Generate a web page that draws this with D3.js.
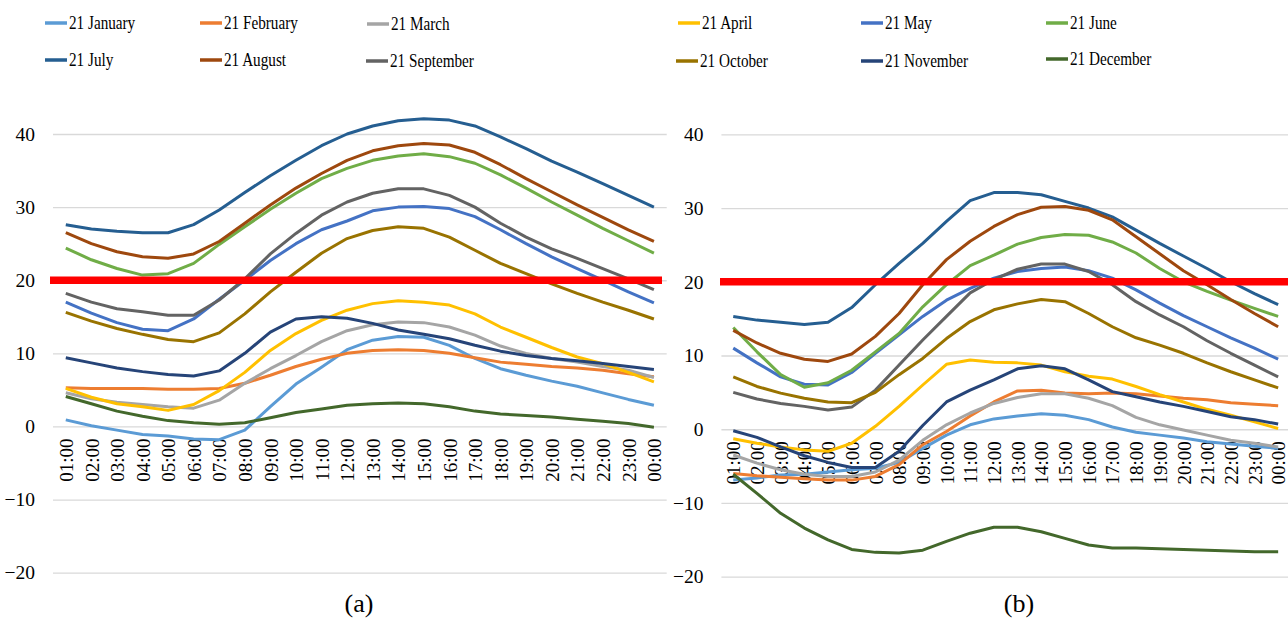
<!DOCTYPE html>
<html>
<head>
<meta charset="utf-8">
<script src="https://cdn.jsdelivr.net/npm/d3@7"></script>
<style>
  body { margin: 0; background: #fff; }
  svg, svg text { font-family: "Liberation Serif", "Times New Roman", serif; }
  svg { display: block; }
</style>
</head>
<body>
<svg id="chart" width="1288" height="618"></svg>
<script>
const hours = ['01:00', '02:00', '03:00', '04:00', '05:00', '06:00', '07:00', '08:00', '09:00', '10:00', '11:00', '12:00',
  '13:00', '14:00', '15:00', '16:00', '17:00', '18:00', '19:00', '20:00', '21:00', '22:00', '23:00', '00:00'];
const months = ['21 January', '21 February', '21 March', '21 April', '21 May', '21 June',
  '21 July', '21 August', '21 September', '21 October', '21 November', '21 December'];
const colors = ['#5B9BD5', '#ED7D31', '#A5A5A5', '#FFC000', '#4472C4', '#70AD47',
  '#255E91', '#9E480E', '#636363', '#997300', '#264478', '#43682B'];
const yTicks = [-20, -10, 0, 10, 20, 30, 40];
const threshold = 20;

// panel (a)
const janA = [0.9, 0.1, -0.5, -1.1, -1.3, -1.7, -1.8, -0.5, 2.7, 5.8, 8.1, 10.5, 11.8, 12.3, 12.2, 11.1, 9.3, 7.9, 7.0, 6.2, 5.5, 4.6, 3.7, 2.9];
const febA = [5.3, 5.2, 5.2, 5.2, 5.1, 5.1, 5.2, 5.9, 7.0, 8.2, 9.2, 10.0, 10.4, 10.5, 10.4, 10.0, 9.4, 8.8, 8.5, 8.2, 8.0, 7.7, 7.2, 6.8];
const marA = [4.6, 3.8, 3.3, 3.0, 2.7, 2.5, 3.6, 5.9, 7.9, 9.7, 11.6, 13.1, 13.9, 14.3, 14.2, 13.6, 12.5, 11.0, 10.0, 9.3, 8.8, 8.2, 7.7, 6.7];
const aprA = [5.2, 4.0, 3.1, 2.7, 2.2, 3.0, 4.9, 7.4, 10.4, 12.7, 14.5, 15.9, 16.8, 17.2, 17.0, 16.6, 15.4, 13.6, 12.2, 10.8, 9.5, 8.6, 7.4, 6.1];
const mayA = [17.0, 15.5, 14.2, 13.3, 13.1, 14.7, 17.4, 20.0, 22.7, 25.0, 26.9, 28.1, 29.5, 30.0, 30.1, 29.8, 28.7, 26.9, 25.0, 23.2, 21.6, 20.0, 18.4, 16.9];
const junA = [24.4, 22.8, 21.6, 20.7, 20.9, 22.3, 24.9, 27.3, 29.7, 31.9, 33.9, 35.3, 36.4, 37.0, 37.3, 36.9, 36.0, 34.4, 32.6, 30.7, 28.9, 27.1, 25.4, 23.7];
const julA = [27.6, 27.0, 26.7, 26.5, 26.5, 27.6, 29.6, 32.0, 34.3, 36.4, 38.4, 40.0, 41.1, 41.8, 42.1, 41.9, 41.1, 39.6, 38.0, 36.3, 34.8, 33.2, 31.6, 30.0];
const augA = [26.5, 25.0, 23.9, 23.2, 23.0, 23.6, 25.3, 27.8, 30.3, 32.6, 34.6, 36.4, 37.7, 38.4, 38.7, 38.5, 37.5, 35.8, 33.9, 32.1, 30.3, 28.6, 26.9, 25.3];
const sepA = [18.2, 17.0, 16.1, 15.7, 15.2, 15.2, 17.3, 20.2, 23.6, 26.4, 28.9, 30.7, 31.9, 32.5, 32.5, 31.6, 30.0, 27.8, 25.9, 24.3, 23.0, 21.6, 20.2, 18.7];
const octA = [15.6, 14.4, 13.4, 12.6, 11.9, 11.6, 12.8, 15.4, 18.4, 21.1, 23.7, 25.7, 26.8, 27.3, 27.1, 25.9, 24.1, 22.3, 20.9, 19.5, 18.2, 17.0, 15.9, 14.7];
const novA = [9.4, 8.7, 8.0, 7.5, 7.1, 6.9, 7.6, 10.0, 12.9, 14.7, 15.0, 14.8, 14.1, 13.2, 12.6, 12.0, 11.1, 10.3, 9.7, 9.3, 9.0, 8.6, 8.2, 7.8];
const decA = [4.1, 3.1, 2.1, 1.4, 0.8, 0.5, 0.3, 0.5, 1.2, 1.9, 2.4, 2.9, 3.1, 3.2, 3.1, 2.7, 2.1, 1.7, 1.5, 1.3, 1.0, 0.7, 0.4, -0.1];

// panel (b)
const janB = [-6.9, -6.6, -6.2, -6.1, -5.8, -5.5, -5.3, -4.5, -2.6, -0.8, 0.6, 1.4, 1.8, 2.1, 1.9, 1.3, 0.3, -0.4, -0.8, -1.2, -1.7, -2.0, -2.3, -2.6];
const febB = [-6.0, -6.3, -6.5, -6.7, -6.9, -6.9, -6.4, -4.8, -2.1, -0.3, 1.8, 3.7, 5.2, 5.3, 4.9, 4.8, 4.9, 4.8, 4.5, 4.2, 4.0, 3.6, 3.4, 3.2];
const marB = [-3.5, -4.6, -5.5, -6.1, -6.4, -6.4, -5.8, -4.2, -1.5, 0.6, 2.2, 3.5, 4.3, 4.8, 4.8, 4.2, 3.2, 1.6, 0.6, -0.1, -0.8, -1.5, -1.9, -2.4];
const aprB = [-1.3, -1.9, -2.4, -2.8, -3.0, -1.9, 0.4, 3.1, 6.0, 8.8, 9.4, 9.1, 9.0, 8.7, 7.8, 7.2, 6.8, 5.8, 4.7, 3.7, 2.7, 1.9, 1.0, 0.1];
const mayB = [11.0, 9.0, 7.1, 6.1, 6.0, 7.7, 10.3, 12.8, 15.3, 17.5, 19.1, 20.5, 21.4, 21.8, 22.0, 21.5, 20.5, 18.9, 17.1, 15.4, 13.9, 12.4, 11.0, 9.5];
const junB = [13.8, 10.5, 7.4, 5.7, 6.3, 8.0, 10.5, 13.0, 16.6, 19.6, 22.2, 23.6, 25.1, 26.0, 26.4, 26.3, 25.4, 23.9, 21.8, 20.0, 18.7, 17.5, 16.4, 15.3];
const julB = [15.3, 14.8, 14.5, 14.2, 14.5, 16.5, 19.6, 22.5, 25.2, 28.2, 31.0, 32.1, 32.1, 31.8, 30.9, 30.0, 28.8, 27.0, 25.2, 23.5, 21.8, 20.0, 18.4, 16.9];
const augB = [13.4, 11.7, 10.3, 9.5, 9.2, 10.2, 12.6, 15.7, 19.6, 23.0, 25.5, 27.5, 29.1, 30.1, 30.2, 29.7, 28.4, 26.1, 23.8, 21.5, 19.6, 17.6, 15.7, 13.9];
const sepB = [5.0, 4.1, 3.5, 3.1, 2.6, 3.0, 5.3, 8.7, 12.1, 15.3, 18.5, 20.3, 21.7, 22.4, 22.4, 21.4, 19.6, 17.3, 15.5, 13.9, 12.0, 10.3, 8.7, 7.1];
const octB = [7.1, 5.8, 4.9, 4.2, 3.7, 3.6, 5.0, 7.4, 9.6, 12.3, 14.6, 16.2, 17.0, 17.6, 17.3, 15.7, 13.9, 12.4, 11.4, 10.3, 9.0, 7.8, 6.7, 5.6];
const novB = [-0.2, -1.1, -2.4, -3.6, -4.5, -5.2, -5.2, -3.0, 0.5, 3.7, 5.3, 6.7, 8.2, 8.6, 8.2, 6.7, 5.1, 4.4, 3.7, 3.1, 2.4, 1.7, 1.3, 0.7];
const decB = [-6.1, -8.7, -11.4, -13.4, -15.0, -16.3, -16.7, -16.8, -16.4, -15.2, -14.1, -13.3, -13.3, -13.9, -14.8, -15.7, -16.1, -16.1, -16.2, -16.3, -16.4, -16.5, -16.6, -16.6];

const seriesA = [janA, febA, marA, aprA, mayA, junA, julA, augA, sepA, octA, novA, decA];
const seriesB = [janB, febB, marB, aprB, mayB, junB, julB, augB, sepB, octB, novB, decB];

const svg = d3.select('#chart');

const panels = [
  { series: seriesA, x0: 53, x1: 666.7, y0: 572.7, y1: 134, redX0: 50, redX1: 662, caption: '(a)', capX: 359 },
  { series: seriesB, x0: 721.4, x1: 1290, y0: 576.7, y1: 134.3, redX0: 720, redX1: 1288, caption: '(b)', capX: 1019 }
];

panels.forEach((p) => {
  const x = d3.scalePoint().domain(hours).range([p.x0, p.x1]).padding(0.5);
  const y = d3.scaleLinear().domain([-20, 40]).range([p.y0, p.y1]);
  const g = svg.append('g');

  // gridlines + y labels
  const yAxis = g.append('g')
    .attr('transform', `translate(${p.x0},0)`)
    .call(d3.axisLeft(y).tickValues(yTicks).tickSize(-(p.x1 - p.x0)).tickPadding(18).tickFormat(d3.format('d')));
  yAxis.attr('font-family', null).attr('font-size', null);
  yAxis.select('.domain').remove();
  yAxis.selectAll('line').attr('stroke', '#d9d9d9').attr('stroke-width', 1.3);
  yAxis.selectAll('text').attr('fill', '#000').attr('font-size', 19.5);

  // hour labels next to the zero line
  const xAxis = g.append('g')
    .attr('transform', `translate(0,${y(0)})`)
    .call(d3.axisBottom(x).tickSize(0));
  xAxis.attr('font-family', null).attr('font-size', null);
  xAxis.select('.domain').remove();
  xAxis.selectAll('text')
    .attr('fill', '#000')
    .attr('font-size', 19)
    .style('text-anchor', 'end')
    .attr('transform', 'rotate(-90)')
    .attr('x', -12)
    .attr('y', 0)
    .attr('dy', '0.35em');

  const line = d3.line()
    .x((d, i) => x(hours[i]))
    .y((d) => y(d));

  g.selectAll('.series')
    .data(p.series)
    .enter()
    .append('path')
    .attr('class', 'series')
    .attr('d', line)
    .attr('fill', 'none')
    .attr('stroke', (d, i) => colors[i])
    .attr('stroke-width', 3)
    .attr('stroke-linejoin', 'round');

  g.append('line')
    .attr('x1', p.redX0)
    .attr('x2', p.redX1)
    .attr('y1', y(threshold))
    .attr('y2', y(threshold))
    .attr('stroke', '#FF0000')
    .attr('stroke-width', 7.5);

  g.append('text')
    .attr('x', p.capX)
    .attr('y', 612)
    .attr('text-anchor', 'middle')
    .attr('font-size', 26)
    .attr('fill', '#000')
    .text(p.caption);
});

// legend: two rows of six, slightly condensed text
const legendX = [45, 200, 367, 678, 861, 1046, 45, 200, 366, 676, 861, 1046];
const legendY = [23, 23, 24, 23, 23, 23, 60, 60, 61, 61, 61, 59];

const legend = svg.append('g');
months.forEach((m, k) => {
  const item = legend.append('g').attr('transform', `translate(${legendX[k]},${legendY[k]})`);
  item.append('line')
    .attr('x1', 0).attr('x2', 22)
    .attr('stroke', colors[k])
    .attr('stroke-width', 3.5);
  item.append('text')
    .attr('transform', 'translate(24,0) scale(0.8,1)')
    .attr('dy', '0.33em')
    .attr('font-size', 19)
    .attr('fill', '#000')
    .text(m);
});
</script>
</body>
</html>
